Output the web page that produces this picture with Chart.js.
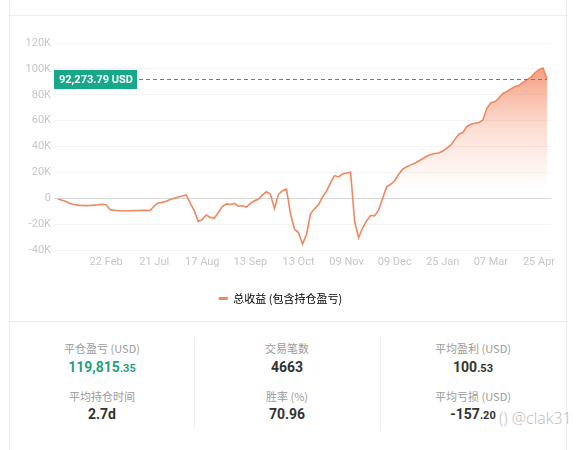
<!DOCTYPE html>
<html lang="zh-CN">
<head>
<meta charset="utf-8">
<title>总收益</title>
<script src="https://cdn.jsdelivr.net/npm/chart.js@4.4.1/dist/chart.umd.min.js"></script>
<style>
    html, body { margin: 0; padding: 0; background: #fff; }
    body { width: 584px; height: 450px; position: relative; overflow: hidden;
           font-family: Roboto, "Noto Sans CJK SC", sans-serif; }
    .card { position: absolute; left: 9px; top: 0; width: 558px; height: 450px;
            border-left: 1px solid #ececec; border-right: 1px solid #ececec; box-sizing: border-box; }
    .hline { position: absolute; left: 10px; width: 556px; height: 1px; background: #ececec; }
    .chart-box { position: absolute; left: 10px; top: 16px; width: 556px; height: 306px; }
    .cell { position: absolute; top: 322px; height: 128px; text-align: center; }
    .cell.sep::before { content: ''; position: absolute; left: 0; top: 15px; height: 93px; width: 1px; background: #f0f0f0; }
    .lab { position: absolute; left: 0; right: 0; line-height: 16px; font-size: 11px; color: #9b9b9b;
           font-family: "Noto Sans CJK SC", Roboto, sans-serif; }
    .val { position: absolute; left: 0; right: 0; line-height: 20px; font-size: 14px; font-weight: bold; color: #333; }
    .val .dec { font-size: 11px; }
    .val.up { color: #1f9f80; }
    .r1 { top: 18px; } .v1 { top: 35px; } .r2 { top: 66px; } .v2 { top: 82px; }
    .mark { position: absolute; left: 499px; top: 407px; font-size: 16px; font-weight: 300; color: #bcbcbc;
            font-family: "Open Sans", sans-serif; white-space: nowrap; }
</style>
</head>
<body>
<div class="card"></div>
<div class="hline" style="top:15px"></div>
<div class="hline" style="top:321px"></div>
<div class="chart-box"><canvas id="pnlChart"></canvas></div>

<div class="cell" style="left:10px;width:184px">
    <div class="lab r1">平仓盈亏 (USD)</div>
    <div class="val up v1">119,815<span class="dec">.35</span></div>
    <div class="lab r2">平均持仓时间</div>
    <div class="val v2">2.7d</div>
</div>
<div class="cell sep" style="left:194px;width:186px">
    <div class="lab r1">交易笔数</div>
    <div class="val v1">4663</div>
    <div class="lab r2">胜率 (%)</div>
    <div class="val v2">70.96</div>
</div>
<div class="cell sep" style="left:380px;width:186px">
    <div class="lab r1">平均盈利 (USD)</div>
    <div class="val v1">100<span class="dec">.53</span></div>
    <div class="lab r2">平均亏损 (USD)</div>
    <div class="val v2">-157<span class="dec">.20</span></div>
</div>
<div class="mark">() @clak31</div>

<script>
// Series name and x-axis tick labels
const seriesName = '总收益 (包含持仓盈亏)';
const tickLabels = ['22 Feb', '21 Jul', '17 Aug', '13 Sep', '13 Oct', '09 Nov', '09 Dec', '25 Jan', '07 Mar', '25 Apr'];
const tickIndex = [12, 24, 36, 48, 60, 72, 84, 96, 108, 120];

// Total PnL per step, thousands of USD
const pnlK = [
    -0.5, -1.5, -2.5, -4.0, -4.9, -5.3, -5.6, -5.7, -5.6, -5.3,
    -5.0, -4.6, -5.0, -8.8, -9.3, -9.6, -9.7, -9.8, -9.7, -9.6,
    -9.5, -9.4, -9.3, -9.5, -6.0, -3.6, -3.2, -2.3, -1.0, 0.0,
    1.0, 1.8, 2.6, -4.0, -9.5, -18.0, -16.3, -13.0, -14.8, -15.4,
    -11.0, -6.5, -4.4, -4.8, -4.0, -6.2, -5.8, -6.8, -4.0, -2.0,
    -0.8, 2.4, 5.0, 3.0, -8.0, 3.0, 5.8, 7.0, -12.0, -24.0,
    -26.5, -35.5, -28.0, -12.0, -8.2, -5.0, 1.0, 5.5, 12.0, 17.5,
    16.5, 18.8, 19.5, 20.2, -17.8, -30.5, -23.0, -17.5, -13.4, -13.4,
    -9.0, 0.0, 8.8, 10.8, 13.5, 18.5, 22.5, 24.3, 25.8, 27.0,
    28.8, 30.5, 32.5, 33.8, 34.6, 35.0, 36.5, 38.8, 41.0, 45.5,
    49.5, 50.8, 55.5, 57.2, 58.0, 58.5, 60.5, 69.5, 73.8, 74.5,
    77.5, 81.0, 82.5, 84.5, 86.3, 87.2, 89.5, 91.5, 93.5, 97.0,
    99.4, 100.6, 92.27379
];
const steps = pnlK.map((_, i) => i);

const lineColor = '#f0875f';
const markerColor = '#17a88a';
const axisFont = { family: 'Roboto, sans-serif', size: 11 };

// Dashed guide + badge at the latest value
const lastValueMarker = {
    id: 'lastValueMarker',
    afterDatasetsDraw(chart) {
        const { ctx, chartArea, scales } = chart;
        const last = pnlK[pnlK.length - 1];
        const text = (last * 1000).toLocaleString('en-US', { minimumFractionDigits: 2, maximumFractionDigits: 2 }) + ' USD';
        const py = Math.round(scales.y.getPixelForValue(last)) + 0.5;
        ctx.save();
        ctx.font = 'bold 11px Roboto, sans-serif';
        const boxW = Math.round(ctx.measureText(text).width + 9);
        const boxH = 19;
        ctx.strokeStyle = markerColor;
        ctx.lineWidth = 1;
        ctx.setLineDash([4, 3]);
        ctx.beginPath();
        ctx.moveTo(chartArea.left + boxW + 2, py);
        ctx.lineTo(scales.x.getPixelForValue(steps[steps.length - 1]), py);
        ctx.stroke();
        ctx.setLineDash([]);
        ctx.fillStyle = markerColor;
        ctx.fillRect(chartArea.left, Math.round(py - boxH / 2), boxW, boxH);
        ctx.fillStyle = '#fff';
        ctx.textBaseline = 'middle';
        ctx.fillText(text, chartArea.left + 5, py + 0.5);
        ctx.restore();
    }
};

new Chart(document.getElementById('pnlChart'), {
    type: 'line',
    data: {
        labels: steps,
        datasets: [{
            label: seriesName,
            data: pnlK,
            borderColor: lineColor,
            borderWidth: 1.6,
            pointRadius: 0,
            tension: 0,
            fill: 'start',
            backgroundColor: function (context) {
                const { chart } = context;
                if (!chart.chartArea) return 'transparent';
                const y = chart.scales.y;
                const g = chart.ctx.createLinearGradient(0, y.getPixelForValue(100), 0, y.getPixelForValue(8));
                g.addColorStop(0, 'rgba(243, 125, 85, 0.72)');
                g.addColorStop(0.5, 'rgba(243, 125, 85, 0.25)');
                g.addColorStop(1, 'rgba(243, 125, 85, 0)');
                return g;
            }
        }]
    },
    options: {
        responsive: true,
        maintainAspectRatio: false,
        devicePixelRatio: 1,
        animation: false,
        layout: { padding: { top: 27, right: 15, left: 0, bottom: 8 } },
        scales: {
            x: {
                type: 'linear',
                min: -1,
                max: 123,
                afterBuildTicks: axis => { axis.ticks = tickIndex.map(v => ({ value: v })); },
                afterFit: axis => { axis.height = 33; },
                grid: { display: false, drawTicks: false },
                border: { display: false },
                ticks: {
                    autoSkip: false,
                    maxRotation: 0,
                    padding: 6,
                    color: '#c6c6c6',
                    font: axisFont,
                    callback: value => tickLabels[tickIndex.indexOf(value)] || ''
                }
            },
            y: {
                min: -40,
                max: 120,
                afterFit: axis => { axis.width = 44; },
                grid: {
                    drawTicks: false,
                    color: ctx => ctx.tick.value === 0 ? '#d8d8d8' : '#f3f3f3'
                },
                border: { display: false },
                ticks: {
                    stepSize: 20,
                    padding: 3,
                    color: '#c6c6c6',
                    font: axisFont,
                    callback: v => v === 0 ? '0' : v + 'K'
                }
            }
        },
        plugins: {
            legend: {
                position: 'bottom',
                labels: {
                    boxWidth: 9,
                    boxHeight: 3,
                    padding: 10,
                    color: '#a0a0a0',
                    font: { family: '"Noto Sans CJK SC", sans-serif', size: 11 },
                    generateLabels: () => [{
                        text: seriesName, fillStyle: lineColor, strokeStyle: lineColor,
                        lineWidth: 0, hidden: false, datasetIndex: 0
                    }]
                }
            },
            tooltip: { enabled: false }
        }
    },
    plugins: [lastValueMarker]
});
</script>
</body>
</html>
